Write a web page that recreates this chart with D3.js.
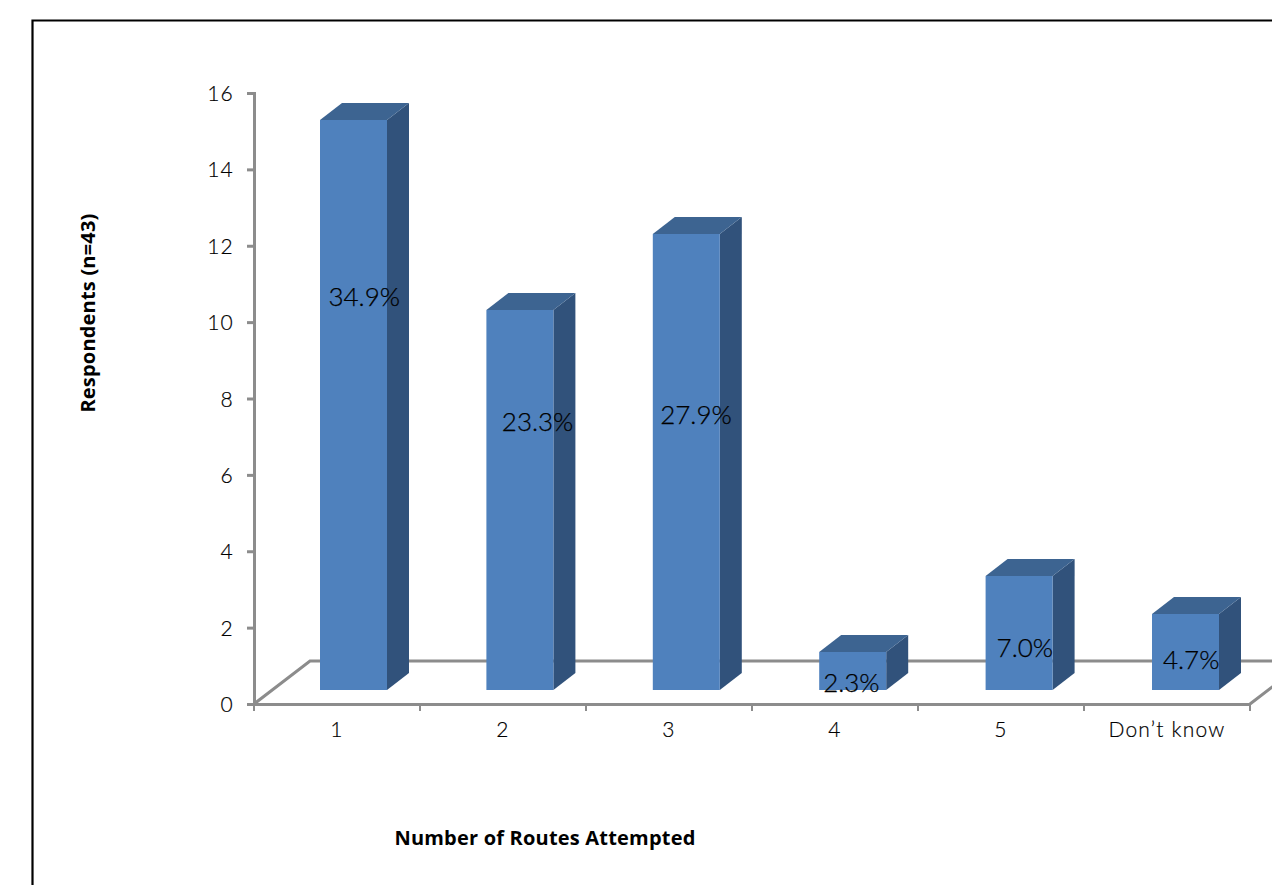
<!DOCTYPE html>
<html lang="en">
<head>
<meta charset="utf-8">
<script src="https://d3js.org/d3.v7.min.js"></script>
<style>
  html, body { margin: 0; padding: 0; background: #fff; overflow: hidden; }
  svg { display: block; }
  .tick text { font-family: Lato, sans-serif; font-weight: 300; font-size: 21px; letter-spacing: 1.2px; fill: #000; stroke: #000; stroke-width: 0.2px; }
  .title { font-family: "Open Sans", sans-serif; font-size: 20px; font-weight: 700; letter-spacing: 0.2px; fill: #000; }
  .pct { font-family: Lato, sans-serif; font-weight: 300; font-size: 26px; fill: #000; stroke: #000; stroke-width: 0.25px; text-anchor: middle; }
</style>
</head>
<body>
<svg width="1272" height="885"></svg>
<script>
  const categories = ["1", "2", "3", "4", "5", "Don\u2019t know"];
  const respondents = [15, 10, 12, 1, 3, 2];
  const shareLabels = ["34.9%", "23.3%", "27.9%", "2.3%", "7.0%", "4.7%"];
  const yTicks = [0, 2, 4, 6, 8, 10, 12, 14, 16];

  const labelLevels = [10.35, 7.05, 7.25, 0.2, 1.12, 0.8];
  const labelNudge = [11, 18, 10, -1, 6, 6];

  const svg = d3.select("svg");
  const plotLeft = 254, plotRight = 1250, plotBottom = 704, plotTop = 93;
  const depth = { x: 22, y: -17 };    // bar depth
  const floor = { x: 56, y: -43 };    // floor depth
  const barWidth = 67;
  const gray = "#8c8c8c";

  const x = d3.scaleBand().domain(categories).range([plotLeft, plotRight]);
  const y = d3.scaleLinear().domain([0, 16]).range([plotBottom, plotTop]);
  // the bars stand on the front of the floor, slightly in from the axis
  const xBar = d3.scaleBand().domain(categories).range([plotLeft, plotRight + 2.4]);
  const yBar = d3.scaleLinear().domain([0, 16]).range([690, 82]);

  // frame, runs off the page at right and bottom
  svg.append("path")
    .attr("d", "M32.5,885V20.5H1272")
    .attr("fill", "none")
    .attr("stroke", "#000")
    .attr("stroke-width", 2.2);

  // floor
  svg.append("path")
    .attr("d", `M${plotLeft},${plotBottom}L${plotLeft + floor.x},${plotBottom + floor.y}H${plotRight + floor.x}L${plotRight},${plotBottom}`)
    .attr("fill", "none")
    .attr("stroke", gray)
    .attr("stroke-width", 3);

  const yAxis = d3.axisLeft(y).tickValues(yTicks).tickSize(7).tickPadding(13);
  const xAxis = d3.axisBottom(x).tickSize(0).tickPadding(18);

  const gy = svg.append("g").attr("transform", `translate(${plotLeft},0)`).call(yAxis);
  const gx = svg.append("g").attr("transform", `translate(0,${plotBottom})`).call(xAxis);
  gy.selectAll("line, path").attr("stroke", gray).attr("stroke-width", 3);
  gx.selectAll("path").attr("stroke", gray).attr("stroke-width", 3);
  gy.selectAll("text").attr("dy", "0.36em");

  // category boundaries get the ticks, not the centres
  gx.selectAll("line.bound")
    .data(categories.map(c => x(c)).concat(plotRight))
    .enter().append("line")
    .attr("class", "bound")
    .attr("x1", d => d).attr("x2", d => d)
    .attr("y1", 0).attr("y2", 7)
    .attr("stroke", gray)
    .attr("stroke-width", 2);

  const barLeft = c => xBar(c) + (xBar.bandwidth() - barWidth) / 2 + 16.3;

  const bars = svg.selectAll("g.bar")
    .data(categories.map((c, i) => ({ cat: c, value: respondents[i] })))
    .enter().append("g")
    .attr("class", "bar");

  // side
  bars.append("path")
    .attr("fill", "#31527B")
    .attr("d", d => {
      const r = barLeft(d.cat) + barWidth, t = yBar(d.value), b = yBar(0);
      return `M${r},${t}L${r + depth.x},${t + depth.y}V${b + depth.y}L${r},${b}Z`;
    });

  // top
  bars.append("path")
    .attr("fill", "#3D6491")
    .attr("d", d => {
      const l = barLeft(d.cat), t = yBar(d.value);
      return `M${l},${t}L${l + depth.x},${t + depth.y}H${l + barWidth + depth.x}L${l + barWidth},${t}Z`;
    });

  // front
  bars.append("rect")
    .attr("x", d => barLeft(d.cat))
    .attr("y", d => yBar(d.value))
    .attr("width", barWidth)
    .attr("height", d => yBar(0) - yBar(d.value))
    .attr("fill", "#4F81BD");

  svg.selectAll("text.pct")
    .data(shareLabels)
    .enter().append("text")
    .attr("class", "pct")
    .attr("x", (d, i) => xBar(categories[i]) + xBar.bandwidth() / 2 + labelNudge[i] + 16)
    .attr("y", (d, i) => yBar(labelLevels[i]))
    .attr("dy", "0.35em")
    .text(d => d);

  svg.append("text")
    .attr("class", "title")
    .attr("x", 545).attr("y", 845)
    .attr("text-anchor", "middle")
    .text("Number of Routes Attempted");

  svg.append("text")
    .attr("class", "title")
    .attr("transform", "translate(95,313) rotate(-90)")
    .attr("text-anchor", "middle")
    .text("Respondents (n=43)");
</script>
</body>
</html>
